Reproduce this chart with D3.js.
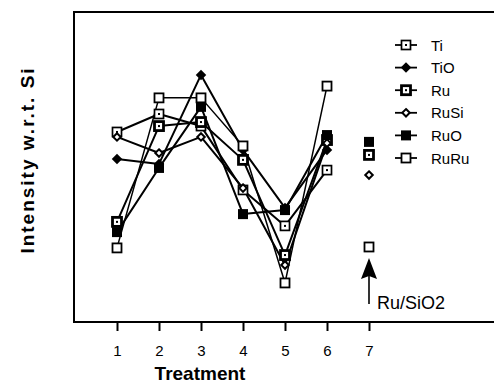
<!DOCTYPE html>
<html>
<head>
<meta charset="utf-8">
<script src="https://cdn.jsdelivr.net/npm/d3@7"></script>
<style>
	body { margin: 0; background: #fff; }
	text { font-family: 'Liberation Sans', Arial, sans-serif; fill: #000; }
</style>
</head>
<body>
<div id="chart"></div>
<script>
// treatments on the x axis
const treatments = [1, 2, 3, 4, 5, 6, 7]
const seriesNames = ['Ti', 'TiO', 'Ru', 'RuSi', 'RuO', 'RuRu']

// intensity (arbitrary units) for treatments 1..6
const tiValues = [61.3, 67.1, 63.2, 42.6, 31.0, 49.0]
const tioValues = [52.6, 51.0, 79.7, 55.5, 36.8, 55.5]
const ruValues = [32.3, 63.2, 64.5, 52.3, 21.6, 58.7]
const rusiValues = [59.7, 54.5, 59.7, 43.2, 18.4, 57.7]
const ruoValues = [29.0, 49.7, 69.4, 34.8, 36.1, 60.3]
const ruruValues = [23.9, 72.3, 72.3, 56.8, 12.6, 76.1]

// reference sample Ru/SiO2 (treatment 7), not connected
const refNames = ['RuO', 'Ru', 'RuSi', 'RuRu']
const refValues = [58.1, 53.9, 47.4, 24.2]

const W = 494, H = 383
const margin = { top: 12, left: 74, bottom: 322 }

const svg = d3.select('#chart').append('svg').attr('width', W).attr('height', H)

const x = d3.scaleLinear().domain([1, 7]).range([117, 369])
const y = d3.scaleLinear().domain([0, 100]).range([margin.bottom, margin.top])

// frame (right side runs off the picture)
svg.append('rect')
	.attr('x', margin.left).attr('y', margin.top)
	.attr('width', W + 10 - margin.left).attr('height', margin.bottom - margin.top)
	.attr('fill', 'none').attr('stroke', '#000').attr('stroke-width', 2)

// x axis ticks and labels
const xAxis = svg.append('g').attr('transform', 'translate(0,' + margin.bottom + ')')
	.call(d3.axisBottom(x).tickValues(treatments).tickFormat(d3.format('d'))
		.tickSize(9).tickSizeOuter(0).tickPadding(14))
xAxis.select('.domain').remove()
xAxis.selectAll('line').attr('stroke-width', 2)
xAxis.selectAll('text').style('font-size', '15px').style('font-family', "'Liberation Sans', Arial, sans-serif")

svg.append('text')
	.attr('x', 200).attr('y', 380)
	.attr('text-anchor', 'middle')
	.style('font-size', '19px').style('font-weight', 'bold')
	.text('Treatment')

svg.append('text')
	.attr('transform', 'translate(34,160) rotate(-90)')
	.attr('text-anchor', 'middle')
	.style('font-size', '19px').style('font-weight', 'bold').style('letter-spacing', '2px')
	.text('Intensity w.r.t. Si')

// marker drawing
function drawMarker(g, name, cx, cy) {
	const m = g.append('g').attr('transform', 'translate(' + cx + ',' + cy + ')')
	if (name === 'Ti' || name === 'Ru') {
		const sw = name === 'Ru' ? 2.8 : 1.7
		m.append('rect').attr('x', -4.5).attr('y', -4.5).attr('width', 9).attr('height', 9)
			.attr('fill', '#fff').attr('stroke', '#000').attr('stroke-width', sw)
		m.append('rect').attr('x', -1).attr('y', -1).attr('width', 2).attr('height', 2).attr('fill', '#000')
	} else if (name === 'RuRu') {
		m.append('rect').attr('x', -4.5).attr('y', -4.5).attr('width', 9).attr('height', 9)
			.attr('fill', '#fff').attr('stroke', '#000').attr('stroke-width', 1.8)
	} else if (name === 'RuO') {
		m.append('rect').attr('x', -5).attr('y', -5).attr('width', 10).attr('height', 10).attr('fill', '#000')
	} else if (name === 'TiO') {
		m.append('path').attr('d', d3.symbol(d3.symbolDiamond2, 70)).attr('fill', '#000')
	} else if (name === 'RuSi') {
		m.append('path').attr('d', d3.symbol(d3.symbolDiamond2, 36))
			.attr('fill', '#fff').attr('stroke', '#000').attr('stroke-width', 2)
	}
}

const allSeries = [tiValues, tioValues, ruValues, rusiValues, ruoValues, ruruValues]
const line = d3.line().x((d, i) => x(treatments[i])).y((d) => y(d))

const lines = svg.append('g')
allSeries.forEach((vals, k) => {
	lines.append('path').attr('d', line(vals))
		.attr('fill', 'none').attr('stroke', '#000')
		.attr('stroke-width', seriesNames[k] === 'RuRu' ? 1.5 : 2)
		.attr('stroke-linejoin', 'round')
})

const marks = svg.append('g')
allSeries.forEach((vals, k) => {
	vals.forEach((v, i) => drawMarker(marks, seriesNames[k], x(treatments[i]), y(v)))
})
refValues.forEach((v, i) => drawMarker(marks, refNames[i], x(7), y(v)))

// arrow pointing at the reference sample
const arrow = svg.append('g')
arrow.append('line').attr('x1', x(7)).attr('x2', x(7)).attr('y1', 276).attr('y2', 304)
	.attr('stroke', '#000').attr('stroke-width', 1.6)
arrow.append('path')
	.attr('d', 'M' + x(7) + ',258 L' + (x(7) + 8) + ',279 L' + x(7) + ',276 L' + (x(7) - 8) + ',279 Z')
	.attr('fill', '#000')

svg.append('text')
	.attr('x', 377).attr('y', 309)
	.style('font-size', '18px')
	.text('Ru/SiO2')

// legend
const legend = svg.append('g')
seriesNames.forEach((name, i) => {
	const ly = 45 + i * 22.6
	legend.append('line').attr('x1', 395).attr('x2', 417).attr('y1', ly).attr('y2', ly)
		.attr('stroke', '#000').attr('stroke-width', 1.8)
	drawMarker(legend, name, 406, ly)
	legend.append('text').attr('x', 431).attr('y', ly + 5.5)
		.style('font-size', '15px').text(name)
})
</script>
</body>
</html>
